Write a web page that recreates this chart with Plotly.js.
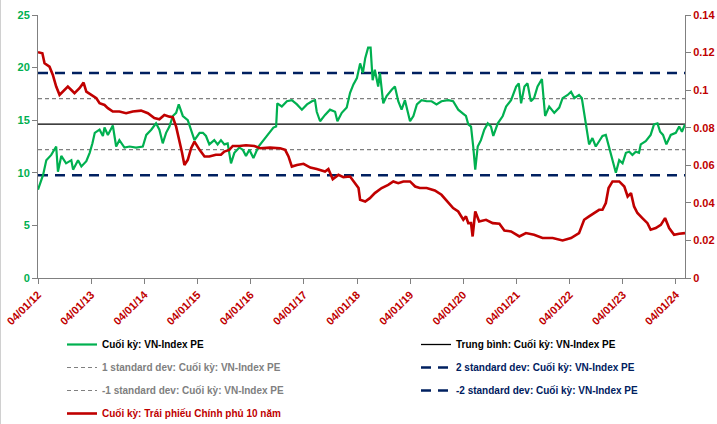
<!DOCTYPE html>
<html><head><meta charset="utf-8">
<script src="https://cdn.plot.ly/plotly-3.0.1.min.js"></script>
<style>html,body{margin:0;padding:0;background:#fff;}#c{width:717px;height:424px;}#b{position:absolute;left:0;top:0;width:1px;height:424px;background:#d0d0d0;pointer-events:none;}</style>
</head><body><div id="c"></div><div id="b"></div>
<script>
// VN-Index PE (left axis)
const peDates = ['2012-01-04','2012-02-08','2012-03-01','2012-04-04','2012-05-08','2012-05-20','2012-06-12','2012-07-15','2012-08-20','2012-09-01','2012-10-05','2012-10-28','2012-12-01','2012-12-24','2013-01-12','2013-01-28','2013-03-02','2013-03-25','2013-04-05','2013-04-28','2013-06-01','2013-06-24','2013-07-16','2013-08-20','2013-09-24','2013-11-08','2013-12-24','2014-01-17','2014-02-20','2014-03-25','2014-04-17','2014-05-10','2014-06-02','2014-06-25','2014-07-18','2014-08-10','2014-08-28','2014-09-25','2014-10-29','2014-11-21','2014-12-14','2015-01-18','2015-02-10','2015-03-03','2015-03-26','2015-04-29','2015-05-22','2015-06-14','2015-07-07','2015-07-30','2015-08-22','2015-09-14','2015-10-18','2015-11-11','2015-12-03','2015-12-26','2016-01-23','2016-02-27','2016-04-01','2016-05-05','2016-06-08','2016-06-27','2016-07-05','2016-08-05','2016-09-09','2016-10-13','2016-11-17','2016-12-21','2017-01-25','2017-02-28','2017-03-21','2017-04-02','2017-04-25','2017-05-29','2017-07-02','2017-08-06','2017-08-22','2017-09-21','2017-10-25','2017-11-17','2017-12-10','2018-01-03','2018-01-25','2018-02-13','2018-03-01','2018-03-21','2018-04-07','2018-04-21','2018-05-06','2018-05-29','2018-06-10','2018-07-03','2018-07-26','2018-08-30','2018-09-21','2018-10-14','2018-11-06','2018-11-29','2018-12-22','2019-01-03','2019-01-26','2019-02-19','2019-03-23','2019-04-27','2019-05-31','2019-07-04','2019-08-07','2019-09-22','2019-10-26','2019-11-30','2020-01-04','2020-01-22','2020-02-07','2020-02-26','2020-03-12','2020-03-26','2020-04-12','2020-05-04','2020-05-27','2020-06-20','2020-07-12','2020-07-28','2020-08-28','2020-10-01','2020-10-24','2020-11-27','2021-01-01','2021-01-19','2021-02-04','2021-02-27','2021-03-20','2021-04-12','2021-05-04','2021-05-28','2021-06-27','2021-07-19','2021-08-16','2021-09-20','2021-10-24','2021-11-16','2021-12-21','2022-01-13','2022-02-05','2022-03-09','2022-03-28','2022-04-13','2022-04-29','2022-05-17','2022-06-09','2022-07-02','2022-07-25','2022-08-17','2022-09-09','2022-10-02','2022-10-25','2022-11-17','2022-12-10','2023-01-02','2023-01-25','2023-02-17','2023-03-11','2023-04-03','2023-04-25','2023-05-07','2023-06-10','2023-07-14','2023-08-06','2023-08-30','2023-09-17','2023-10-07','2023-10-30','2023-11-29','2024-01-03','2024-01-26','2024-02-14','2024-03-06'];
const peValues = [8.4,9.8,11.2,11.7,12.5,10.1,11.6,10.9,11.2,10.3,11.2,10.6,11.1,11.9,12.8,13.8,14.1,13.5,14.3,13.6,14.5,12.5,13.1,12.4,12.5,12.4,12.5,13.6,14.1,14.7,14.1,12.8,13.8,14.4,15.4,15.7,16.5,15.4,15.0,14.1,13.1,13.8,13.8,13.5,12.7,13.1,12.7,13.1,12.7,12.8,10.9,11.9,12.4,12.2,11.6,12.2,11.4,12.5,13.1,13.8,14.3,14.4,16.6,16.3,16.8,16.9,16.5,16.0,16.5,16.8,16.9,15.8,14.9,15.5,16.0,15.8,14.9,15.7,16.2,17.6,18.4,19.0,20.4,19.5,20.9,21.9,21.9,18.8,19.8,18.2,19.5,16.6,17.3,17.9,18.2,16.8,16.0,16.9,15.7,14.9,15.4,16.5,16.9,16.8,16.8,16.5,16.8,16.9,16.8,16.0,15.6,15.4,14.6,14.4,12.5,10.3,12.5,13.1,14.1,14.7,14.4,13.5,14.7,15.4,16.3,16.9,18.2,18.5,16.6,18.2,18.5,16.8,17.1,18.2,18.9,15.4,16.3,15.7,16.2,17.1,17.4,17.7,17.1,17.4,17.1,15.7,14.4,12.7,13.3,12.5,13.0,13.5,13.6,12.4,11.2,10.0,11.2,10.9,11.9,12.0,11.7,12.0,11.9,12.7,13.0,13.6,14.6,14.7,13.9,13.6,12.7,13.6,13.8,14.4,13.9,14.6];

// 10-year government bond yield (right axis)
const bondDates = ['2012-01-04','2012-02-03','2012-02-18','2012-03-23','2012-04-15','2012-05-08','2012-05-31','2012-06-23','2012-07-27','2012-08-20','2012-09-11','2012-10-15','2012-11-12','2012-12-01','2013-01-05','2013-02-08','2013-03-02','2013-04-05','2013-04-28','2013-06-01','2013-07-16','2013-08-31','2013-10-16','2013-12-12','2014-01-28','2014-03-13','2014-04-17','2014-05-21','2014-06-25','2014-07-18','2014-08-10','2014-09-02','2014-09-20','2014-10-06','2014-10-29','2014-11-21','2014-12-14','2015-01-18','2015-02-21','2015-03-26','2015-05-10','2015-06-14','2015-07-07','2015-08-10','2015-09-03','2015-10-18','2015-12-03','2016-01-30','2016-03-09','2016-05-16','2016-07-24','2016-08-28','2016-09-20','2016-10-13','2016-11-17','2017-01-01','2017-02-17','2017-04-02','2017-05-29','2017-06-21','2017-07-21','2017-08-29','2017-10-02','2017-11-17','2017-12-21','2018-01-14','2018-01-25','2018-03-01','2018-04-02','2018-05-06','2018-06-22','2018-08-06','2018-09-10','2018-10-14','2018-11-18','2019-01-03','2019-02-07','2019-03-11','2019-04-27','2019-06-22','2019-08-07','2019-09-22','2019-10-26','2019-11-30','2020-01-04','2020-01-22','2020-02-07','2020-02-26','2020-03-08','2020-03-26','2020-04-22','2020-06-08','2020-07-24','2020-09-08','2020-10-12','2020-11-27','2021-01-23','2021-03-09','2021-05-04','2021-07-01','2021-09-09','2021-11-16','2022-01-13','2022-03-09','2022-04-13','2022-05-17','2022-06-20','2022-07-25','2022-08-17','2022-09-09','2022-09-28','2022-10-25','2022-12-10','2023-01-14','2023-02-06','2023-03-01','2023-03-22','2023-04-14','2023-05-18','2023-06-22','2023-07-14','2023-08-18','2023-09-22','2023-10-21','2023-11-18','2023-12-22','2024-01-26','2024-03-06'];
const bondValues = [0.1202,0.1196,0.1143,0.1125,0.1081,0.1019,0.0975,0.0992,0.1019,0.1001,0.0984,0.1010,0.1040,0.0992,0.0975,0.0957,0.0930,0.0921,0.0904,0.0886,0.0886,0.0877,0.0886,0.0891,0.0877,0.0851,0.0845,0.0868,0.0859,0.0856,0.0806,0.0735,0.0665,0.0602,0.0629,0.0691,0.0726,0.0682,0.0647,0.0647,0.0656,0.0656,0.0673,0.0682,0.0703,0.0703,0.0707,0.0703,0.0691,0.0694,0.0691,0.0682,0.0647,0.0593,0.0602,0.0608,0.0588,0.0580,0.0567,0.0580,0.0526,0.0549,0.0537,0.0540,0.0505,0.0479,0.0416,0.0407,0.0425,0.0452,0.0479,0.0496,0.0514,0.0505,0.0514,0.0514,0.0487,0.0479,0.0479,0.0466,0.0443,0.0399,0.0372,0.0354,0.0310,0.0328,0.0292,0.0292,0.0221,0.0354,0.0301,0.0310,0.0292,0.0289,0.0253,0.0248,0.0221,0.0239,0.0230,0.0213,0.0213,0.0200,0.0213,0.0239,0.0310,0.0328,0.0346,0.0363,0.0363,0.0399,0.0479,0.0514,0.0514,0.0487,0.0434,0.0452,0.0381,0.0346,0.0319,0.0292,0.0257,0.0266,0.0283,0.0319,0.0266,0.0230,0.0236,0.0239];

// Reference levels of VN-Index PE
const peMean = 14.63;
const pePlus1 = 17.05;
const peMinus1 = 12.2;
const pePlus2 = 19.48;
const peMinus2 = 9.76;
const levelDates = ['2012-01-04','2024-03-06'];

const xTicks = ['2012-01-04','2013-01-04','2014-01-04','2015-01-04','2016-01-04','2017-01-04','2018-01-04','2019-01-04','2020-01-04','2021-01-04','2022-01-04','2023-01-04','2024-01-04'];

const GREEN='#00b050', RED='#c00000', NAVY='#002060', GRAY='#808080';

function level(v,name,color,width,dash,rank,leg,grp){
  return {x:levelDates,y:[v,v],type:'scatter',mode:'lines',name:name,legend:leg,legendgroup:grp,
    line:{color:color,width:width,dash:dash},legendrank:rank,hoverinfo:'skip'};
}

const traces = [
  level(peMean,'Trung bình: Cuối kỳ: VN-Index PE','#000000',1.3,'solid',1,'legend2','m1'),
  level(pePlus1,'<span style="color:#808080">1 standard dev: Cuối kỳ: VN-Index PE</span>',GRAY,1.2,'4px,3px',2,'legend','g2'),
  level(pePlus2,'<span style="color:#002060">2 standard dev: Cuối kỳ: VN-Index PE</span>',NAVY,2.6,'10px,7px',2,'legend2','m2'),
  level(peMinus1,'<span style="color:#808080">-1 standard dev: Cuối kỳ: VN-Index PE</span>',GRAY,1.2,'4px,3px',3,'legend','g3'),
  level(peMinus2,'<span style="color:#002060">-2 standard dev: Cuối kỳ: VN-Index PE</span>',NAVY,2.6,'10px,7px',3,'legend2','m3'),
  {x:peDates,y:peValues,type:'scatter',mode:'lines',name:'Cuối kỳ: VN-Index PE',legend:'legend',legendgroup:'g1',
   line:{color:GREEN,width:2.2},legendrank:1},
  {x:bondDates,y:bondValues,type:'scatter',mode:'lines',yaxis:'y2',legend:'legend',legendgroup:'g4',
   name:'<span style="color:#c00000">Cuối kỳ: Trái phiếu Chính phủ 10 năm</span>',
   line:{color:RED,width:2.6},legendrank:4}
];

const F = 'Liberation Sans, Arial, sans-serif';
const legFont = {family:F,size:10,color:'#000',weight:700};
const layout = {
  width:717,height:424,
  margin:{l:38,r:32,t:15,b:146,autoexpand:false},
  paper_bgcolor:'#fff',plot_bgcolor:'#fff',
  showlegend:true,
  font:{family:F,size:10,color:'#000'},
  xaxis:{type:'date',range:['2012-01-04','2024-03-06'],tickvals:xTicks,tickformat:'%d/%m/%y',
    tickangle:-45,ticks:'outside',ticklen:5,tickcolor:GRAY,showline:true,linecolor:GRAY,linewidth:1,
    showgrid:false,zeroline:false,automargin:false,tickfont:{family:F,size:11,color:RED,weight:700}},
  yaxis:{range:[0,25],dtick:5,tick0:0,ticks:'outside',ticklen:5,tickcolor:GRAY,showline:true,
    linecolor:GRAY,linewidth:1,showgrid:false,zeroline:false,automargin:false,
    tickfont:{family:F,size:11,color:GREEN,weight:700}},
  yaxis2:{range:[0,0.14],dtick:0.02,tick0:0,overlaying:'y',side:'right',ticks:'outside',ticklen:5,
    tickcolor:GRAY,showline:true,linecolor:GRAY,linewidth:1,showgrid:false,zeroline:false,automargin:false,
    tickfont:{family:F,size:11,color:RED,weight:700}},
  legend:{orientation:'v',xref:'container',yref:'container',x:62/717,y:1-330/424,xanchor:'left',yanchor:'top',
    font:legFont,bgcolor:'rgba(0,0,0,0)',traceorder:'grouped',tracegroupgap:4},
  legend2:{orientation:'v',xref:'container',yref:'container',x:416/717,y:1-330/424,xanchor:'left',yanchor:'top',
    font:legFont,bgcolor:'rgba(0,0,0,0)',traceorder:'grouped',tracegroupgap:4}
};

Plotly.newPlot('c',traces,layout,{displayModeBar:false,staticPlot:true});
</script></body></html>
